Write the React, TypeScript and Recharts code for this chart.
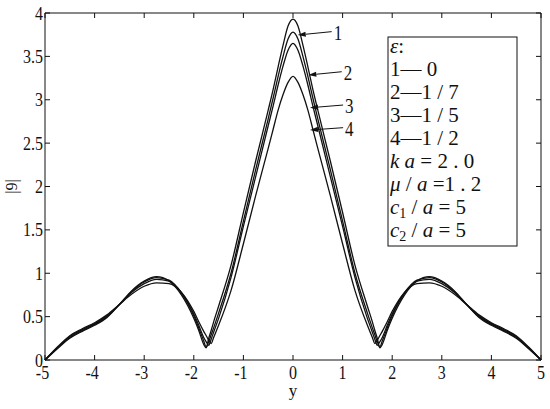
import React from "react";
import { LineChart, Line, XAxis, YAxis, ReferenceLine } from "recharts";

const FONT = '"Liberation Serif", "Times New Roman", serif';
const INK = "#111";

// horizontal coordinate y (categories along the x axis)
const yCoord = [
  -5, -4.75, -4.5, -4.25, -4, -3.75, -3.5, -3.25, -3, -2.75, -2.5, -2.25, -2, -1.9, -1.8, -1.75, -1.7, -1.65, -1.6, -1.5,
  -1.25, -1, -0.75, -0.5, -0.4, -0.3, -0.2, -0.1, 0, 0.1, 0.2, 0.3, 0.4, 0.5, 0.75, 1, 1.25, 1.5, 1.6, 1.65, 1.7, 1.75,
  1.8, 1.9, 2, 2.25, 2.5, 2.75, 3, 3.25, 3.5, 3.75, 4, 4.25, 4.5, 4.75, 5,
];

// curve 1 : eps = 0
const curve1 = [
  0, 0.13, 0.25, 0.33, 0.4, 0.49, 0.64, 0.8, 0.91, 0.96, 0.91, 0.75, 0.48, 0.34, 0.18, 0.14, 0.25, 0.34, 0.44, 0.62,
  1.09, 1.7, 2.3, 2.88, 3.12, 3.38, 3.63, 3.85, 3.93, 3.85, 3.63, 3.38, 3.12, 2.88, 2.3, 1.7, 1.09, 0.62, 0.44, 0.34,
  0.25, 0.14, 0.18, 0.34, 0.48, 0.75, 0.91, 0.96, 0.91, 0.8, 0.64, 0.49, 0.4, 0.33, 0.25, 0.13, 0,
];
// curve 2 : eps = 1/7
const curve2 = [
  0, 0.14, 0.26, 0.34, 0.41, 0.5, 0.64, 0.79, 0.9, 0.95, 0.92, 0.77, 0.51, 0.37, 0.22, 0.15, 0.21, 0.29, 0.37, 0.54,
  1.0, 1.6, 2.2, 2.78, 3.02, 3.27, 3.5, 3.7, 3.78, 3.7, 3.5, 3.27, 3.02, 2.78, 2.2, 1.6, 1.0, 0.54, 0.37, 0.29,
  0.21, 0.15, 0.22, 0.37, 0.51, 0.77, 0.92, 0.95, 0.9, 0.79, 0.64, 0.5, 0.41, 0.34, 0.26, 0.14, 0,
];
// curve 3 : eps = 1/5
const curve3 = [
  0, 0.14, 0.27, 0.35, 0.42, 0.51, 0.64, 0.78, 0.88, 0.93, 0.91, 0.78, 0.53, 0.4, 0.26, 0.21, 0.17, 0.24, 0.32, 0.48,
  0.95, 1.54, 2.12, 2.7, 2.93, 3.17, 3.39, 3.57, 3.65, 3.57, 3.39, 3.17, 2.93, 2.7, 2.12, 1.54, 0.95, 0.48, 0.32, 0.24,
  0.17, 0.21, 0.26, 0.4, 0.53, 0.78, 0.91, 0.93, 0.88, 0.78, 0.64, 0.51, 0.42, 0.35, 0.27, 0.14, 0,
];
// curve 4 : eps = 1/2
const curve4 = [
  0, 0.15, 0.28, 0.36, 0.43, 0.52, 0.64, 0.76, 0.85, 0.89, 0.88, 0.78, 0.56, 0.44, 0.33, 0.28, 0.23, 0.19, 0.26, 0.4,
  0.8, 1.34, 1.9, 2.44, 2.66, 2.88, 3.06, 3.2, 3.27, 3.2, 3.06, 2.88, 2.66, 2.44, 1.9, 1.34, 0.8, 0.4, 0.26, 0.19,
  0.23, 0.28, 0.33, 0.44, 0.56, 0.78, 0.88, 0.89, 0.85, 0.76, 0.64, 0.52, 0.43, 0.36, 0.28, 0.15, 0,
];

const xTicks = [-5, -4, -3, -2, -1, 0, 1, 2, 3, 4, 5];
const vTicks = [0, 0.5, 1, 1.5, 2, 2.5, 3, 3.5, 4];

// curve annotations: label, arrow tail and arrow tip (data coordinates)
const curveLabels = ["1", "2", "3", "4"];
const arrowTails = [
  { x: 0.78, y: 3.785 },
  { x: 0.983, y: 3.323 },
  { x: 1.01, y: 2.939 },
  { x: 1.01, y: 2.678 },
];
const arrowTips = [
  { x: 0.095, y: 3.746 },
  { x: 0.309, y: 3.285 },
  { x: 0.343, y: 2.908 },
  { x: 0.343, y: 2.651 },
];

const epsNames = ["1", "2", "3", "4"];
const epsValues = ["\u00a00", "1 / 7", "1 / 5", "1 / 2"];

const data = yCoord.map((y, i) => ({
  y,
  c1: curve1[i],
  c2: curve2[i],
  c3: curve3[i],
  c4: curve4[i],
}));

const STRETCH = 1.2;
const TICK = 5;
const X_MAX = xTicks[xTicks.length - 1];
const V_MAX = vTicks[vTicks.length - 1];

// vertical grid position t: inward stubs at top & bottom + label under the axis
const xTickShape = (t: number) => (props: any) => {
  const { x1, y1, y2 } = props;
  const top = Math.min(y1, y2);
  const bottom = Math.max(y1, y2);
  const shift = t < 0 ? -2.5 : 0;
  return (
    <g>
      {t === X_MAX ? (
        <line x1={x1} y1={top} x2={x1} y2={bottom} stroke={INK} strokeWidth={1} />
      ) : null}
      <line x1={x1} y1={top} x2={x1} y2={top + TICK} stroke={INK} strokeWidth={1} />
      <line x1={x1} y1={bottom} x2={x1} y2={bottom - TICK} stroke={INK} strokeWidth={1} />
      <g transform={`translate(${x1 + shift},${bottom + 19}) scale(1,${STRETCH})`}>
        <text x={0} y={0} textAnchor="middle" fontFamily={FONT} fontSize={16} fill={INK}>
          {String(t)}
        </text>
      </g>
    </g>
  );
};

// horizontal position v: inward stubs at left & right + label left of the axis
const vTickShape = (v: number) => (props: any) => {
  const { x1, x2, y1 } = props;
  const left = Math.min(x1, x2);
  const right = Math.max(x1, x2);
  return (
    <g>
      {v === V_MAX ? (
        <line x1={left} y1={y1} x2={right} y2={y1} stroke={INK} strokeWidth={1} />
      ) : null}
      <line x1={left} y1={y1} x2={left + TICK} y2={y1} stroke={INK} strokeWidth={1} />
      <line x1={right} y1={y1} x2={right - TICK} y2={y1} stroke={INK} strokeWidth={1} />
      <g transform={`translate(${left - 2},${y1 + 6.5}) scale(1,${STRETCH})`}>
        <text x={0} y={0} textAnchor="end" fontFamily={FONT} fontSize={16} fill={INK}>
          {String(v)}
        </text>
      </g>
    </g>
  );
};

const makeArrow = (label: string) => (props: any) => {
  const { x1, y1, x2, y2 } = props;
  const dx = x2 - x1;
  const dy = y2 - y1;
  const len = Math.hypot(dx, dy) || 1;
  const ux = dx / len;
  const uy = dy / len;
  const hl = 8;
  const hw = 2.6;
  const bx = x2 - ux * hl;
  const by = y2 - uy * hl;
  const pts = `${x2},${y2} ${bx - uy * hw},${by + ux * hw} ${bx + uy * hw},${by - ux * hw}`;
  return (
    <g>
      <line x1={x1} y1={y1} x2={bx} y2={by} stroke={INK} strokeWidth={1} />
      <polygon points={pts} fill={INK} />
      <g transform={`translate(${x1 + 2},${y1 + 8}) scale(1,${STRETCH})`}>
        <text x={0} y={0} fontFamily={FONT} fontSize={17} fill={INK}>
          {label}
        </text>
      </g>
    </g>
  );
};

const YLabel = (props: any) => {
  const vb = props.viewBox || {};
  const cx = vb.x + 17;
  const cy = vb.y + vb.height / 2;
  return (
    <text
      x={cx}
      y={cy}
      transform={`rotate(-90 ${cx} ${cy})`}
      textAnchor="middle"
      fontFamily={FONT}
      fontSize={16}
      fill={INK}
    >
      |9|
    </text>
  );
};

const XLabel = (props: any) => {
  const vb = props.viewBox || {};
  return (
    <text
      x={vb.x + vb.width / 2}
      y={vb.y + 36}
      textAnchor="middle"
      fontFamily={FONT}
      fontSize={17}
      fill={INK}
    >
      y
    </text>
  );
};

const LegendBox = () => {
  const lx = 390;
  const top = 53;
  const step = 23;
  const fs = 21;
  const it = { fontStyle: "italic" as const };
  return (
    <svg
      width={550}
      height={409}
      style={{ position: "absolute", left: 0, top: 0, pointerEvents: "none" }}
    >
      <rect x={388} y={37} width={129} height={209} fill="#fff" stroke={INK} strokeWidth={1} />
      <g fontFamily={FONT} fontSize={fs} fill={INK} style={{ whiteSpace: "pre" }}>
        <text x={lx} y={top}>
          <tspan {...it}>ε</tspan>:
        </text>
        {epsNames.map((n, i) => (
          <text key={n} x={lx} y={top + step * (i + 1)}>
            {n}—{epsValues[i]}
          </text>
        ))}
        <text x={lx} y={top + step * 5}>
          <tspan {...it}>k</tspan> <tspan {...it}>a</tspan> = 2  .  0
        </text>
        <text x={lx} y={top + step * 6}>
          <tspan {...it}>μ</tspan> / <tspan {...it}>a</tspan> =1  .  2
        </text>
        <text x={lx} y={top + step * 7}>
          <tspan {...it}>c</tspan>
          <tspan fontSize={14} dy={4}>1</tspan>
          <tspan dy={-4}> / </tspan>
          <tspan {...it}>a</tspan> = 5
        </text>
        <text x={lx} y={top + step * 8}>
          <tspan {...it}>c</tspan>
          <tspan fontSize={14} dy={4}>2</tspan>
          <tspan dy={-4}> / </tspan>
          <tspan {...it}>a</tspan> = 5
        </text>
      </g>
    </svg>
  );
};

export default function App() {
  return (
    <div style={{ position: "absolute", left: 0, top: 0, width: 550, height: 409, background: "#fff" }}>
      <LineChart width={550} height={409} data={data} margin={{ top: 13, right: 9, bottom: 0, left: 0 }}>
        <XAxis
          dataKey="y"
          type="number"
          domain={[-5, 5]}
          ticks={xTicks}
          height={49}
          tickLine={false}
          tick={false}
          stroke={INK}
          label={<XLabel />}
        />
        <YAxis
          type="number"
          domain={[0, 4]}
          ticks={vTicks}
          width={45}
          tickLine={false}
          tick={false}
          stroke={INK}
          label={<YLabel />}
        />
        {xTicks.map((t) => (
          <ReferenceLine key={`xt${t}`} x={t} shape={xTickShape(t)} ifOverflow="visible" />
        ))}
        {vTicks.map((v) => (
          <ReferenceLine key={`vt${v}`} y={v} shape={vTickShape(v)} ifOverflow="visible" />
        ))}
        <Line type="monotone" dataKey="c1" stroke={INK} strokeWidth={1.3} dot={false} isAnimationActive={false} />
        <Line type="monotone" dataKey="c2" stroke={INK} strokeWidth={1.3} dot={false} isAnimationActive={false} />
        <Line type="monotone" dataKey="c3" stroke={INK} strokeWidth={1.3} dot={false} isAnimationActive={false} />
        <Line type="monotone" dataKey="c4" stroke={INK} strokeWidth={1.3} dot={false} isAnimationActive={false} />
        {curveLabels.map((lab, i) => (
          <ReferenceLine
            key={lab}
            segment={[arrowTails[i], arrowTips[i]]}
            shape={makeArrow(lab)}
            ifOverflow="visible"
          />
        ))}
      </LineChart>
      <LegendBox />
    </div>
  );
}
